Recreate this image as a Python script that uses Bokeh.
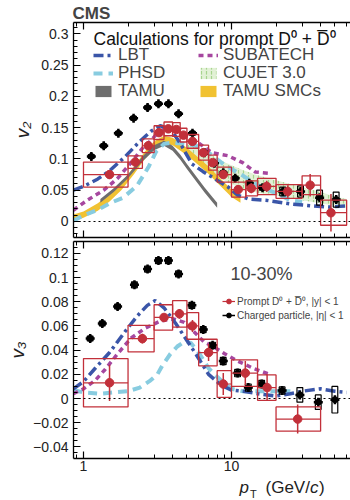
import numpy as np
from bokeh.plotting import figure
from bokeh.layouts import column
from bokeh.models import (Range1d, FixedTicker, LogAxis, CustomJSTickFormatter,
                          CustomLabelingPolicy, Label, Legend, LegendItem, Span, Title)
from bokeh.embed import file_html
from bokeh.resources import INLINE

# ------------------------------------------------------------------ data
# prompt D0 v2
d2_lo = [1, 2, 2.5, 3, 3.5, 4, 4.5, 5, 6, 7, 8, 10, 12.5, 15, 20, 30, 40]
d2_hi = [2, 2.5, 3, 3.5, 4, 4.5, 5, 6, 7, 8, 10, 12.5, 15, 20, 30, 40, 60]
d2_pt = [1.5, 2.24, 2.74, 3.24, 3.74, 4.24, 4.74, 5.45, 6.45, 7.45, 8.8, 11.1, 13.6, 17.3, 24, 34, 47]
d2_v = [0.075, 0.095, 0.121, 0.142, 0.148, 0.147, 0.138, 0.128, 0.110, 0.094, 0.075,
        0.051, 0.053, 0.056, 0.048, 0.058, 0.014]
d2_sys = [0.020, 0.010, 0.011, 0.011, 0.011, 0.011, 0.011, 0.011, 0.012, 0.012, 0.012,
          0.012, 0.012, 0.013, 0.011, 0.015, 0.020]
d2_stat = [0.007, 0.003, 0.003, 0.003, 0.003, 0.003, 0.004, 0.004, 0.005, 0.005, 0.006,
           0.007, 0.008, 0.009, 0.010, 0.018, 0.030]

# charged particle v2
h2_pt = [1.13, 1.37, 1.72, 2.18, 2.71, 3.21, 3.75, 4.39, 5.45, 6.57, 7.67, 8.8, 10.6,
         13.2, 16.2, 22.2, 29.3, 39.4, 51]
h2_v = [0.104, 0.121, 0.141, 0.165, 0.182, 0.188, 0.188, 0.172, 0.141, 0.110, 0.093,
        0.078, 0.069, 0.061, 0.054, 0.048, 0.048, 0.038, 0.035]
h2_sys = [0.003, 0.003, 0.003, 0.003, 0.003, 0.003, 0.003, 0.003, 0.003, 0.003, 0.003,
          0.003, 0.003, 0.004, 0.004, 0.007, 0.009, 0.012, 0.012]

# prompt D0 v3
d3_lo = [1, 2, 3, 4, 5, 6, 8, 10, 15, 20]
d3_hi = [2, 3, 4, 5, 6, 8, 10, 15, 20, 40]
d3_pt = [1.5, 2.5, 3.5, 4.45, 5.45, 7.0, 8.8, 12.4, 17.4, 28]
d3_v = [0.013, 0.0495, 0.067, 0.070, 0.060, 0.038, 0.012, 0.021, 0.009, -0.017]
d3_sys = [0.020, 0.011, 0.0105, 0.011, 0.011, 0.011, 0.011, 0.011, 0.0105, 0.010]
d3_stat = [0.015, 0.004, 0.003, 0.004, 0.005, 0.007, 0.009, 0.010, 0.011, 0.012]

# charged particle v3
h3_pt = [1.11, 1.34, 1.70, 2.21, 2.71, 3.21, 3.75, 4.39, 5.4, 6.45, 7.45, 8.8, 11, 13,
         16, 22, 29, 38.6, 50]
h3_v = [0.0496, 0.062, 0.076, 0.094, 0.107, 0.114, 0.114, 0.103, 0.077, 0.057, 0.044,
        0.031, 0.021, 0.009, 0.012, 0.0066, 0.003, -0.003, -0.001]
h3_sys = [0.002, 0.002, 0.002, 0.0025, 0.0025, 0.0025, 0.0025, 0.0025, 0.0025, 0.0025,
          0.0025, 0.003, 0.003, 0.003, 0.003, 0.003, 0.006, 0.006, 0.011]

# models, v2
lbt2_pt = [0.855, 1.0, 1.25, 1.5, 1.9, 2.4, 2.85, 3.3, 3.9, 4.5, 5.4, 6.4, 8, 9.5, 11,
           13, 17, 25, 35, 45, 60]
lbt2_v = [0.050, 0.056, 0.068, 0.081, 0.103, 0.128, 0.144, 0.153, 0.147, 0.125, 0.092,
          0.080, 0.066, 0.055, 0.042, 0.036, 0.034, 0.028, 0.025, 0.023, 0.025]
sub2_pt = [0.855, 1.06, 1.37, 1.7, 2.08, 2.5, 2.84, 3.21, 3.7, 4.5, 5.7, 7.4, 9.5, 11.9,
           14.5, 18]
sub2_v = [0.018, 0.034, 0.050, 0.069, 0.093, 0.117, 0.129, 0.143, 0.150, 0.145, 0.129,
          0.110, 0.105, 0.094, 0.079, 0.077]
phsd2_pt = [0.855, 1.0, 1.24, 1.5, 1.85, 2.3, 2.75, 3.1, 3.5, 4.0, 5.0, 6.0, 7.0, 9.0,
            12, 15, 20, 25, 30]
phsd2_v = [0.001, 0.010, 0.018, 0.029, 0.038, 0.057, 0.087, 0.112, 0.124, 0.126, 0.124,
           0.120, 0.110, 0.090, 0.073, 0.058, 0.045, 0.034, 0.031]
tamu_pt = [1.3, 1.6, 2.0, 2.5, 3.0, 3.5, 4.0, 4.5, 5.0, 5.7, 6.6, 7.5, 8.0]
tamu_lo = [0.030, 0.047, 0.069, 0.096, 0.114, 0.121, 0.113, 0.099, 0.084, 0.066, 0.046,
           0.030, 0.022]
tamu_hi = [0.036, 0.053, 0.075, 0.104, 0.122, 0.129, 0.121, 0.107, 0.092, 0.074, 0.054,
           0.038, 0.030]
smc_pt = [0.855, 1.0, 1.25, 1.5, 1.8, 2.2, 2.6, 3.0, 3.5, 4.0, 5.0, 6.0, 7.0, 8.0, 9.0,
          10.0, 11.5]
smc_lo = [0.001, 0.006, 0.017, 0.032, 0.050, 0.076, 0.100, 0.116, 0.125, 0.122, 0.106,
          0.090, 0.076, 0.062, 0.050, 0.039, 0.030]
smc_hi = [0.011, 0.016, 0.029, 0.044, 0.062, 0.088, 0.112, 0.128, 0.137, 0.134, 0.118,
          0.102, 0.088, 0.074, 0.062, 0.051, 0.042]
cuj_pt = [5, 6, 7, 8, 10, 12, 15, 20, 25, 30, 40, 50, 60]
cuj_lo = [0.110, 0.098, 0.085, 0.072, 0.060, 0.052, 0.046, 0.042, 0.038, 0.034, 0.029,
          0.025, 0.022]
cuj_hi = [0.125, 0.118, 0.110, 0.100, 0.090, 0.082, 0.074, 0.066, 0.060, 0.055, 0.047,
          0.040, 0.036]

# models, v3
lbt3_pt = [0.855, 1.0, 1.2, 1.5, 1.9, 2.3, 2.7, 3.05, 3.5, 4.2, 5.0, 5.8, 7.0, 8.5, 10,
           12, 15, 20, 25, 30, 40, 50, 60]
lbt3_v = [0.008, 0.014, 0.025, 0.038, 0.055, 0.068, 0.077, 0.081, 0.075, 0.062, 0.048,
          0.036, 0.020, 0.011, 0.007, 0.006, 0.004, 0.002, 0.004, 0.006, 0.008, 0.006,
          0.005]
sub3_pt = [0.855, 1.0, 1.2, 1.4, 1.7, 2.1, 2.6, 3.3, 4.0, 4.8, 5.6, 6.5, 7.5, 9, 11, 14,
           18]
sub3_v = [0.004, 0.008, 0.015, 0.024, 0.037, 0.050, 0.058, 0.064, 0.066, 0.063, 0.055,
          0.047, 0.043, 0.037, 0.031, 0.025, 0.020]
phsd3_pt = [0.855, 1.0, 1.3, 1.6, 2.0, 2.4, 2.84, 3.16, 3.4, 3.87, 4.3, 4.8, 5.3, 6.0,
            7.0, 8.0, 9.0, 10, 12, 15, 20, 25]
phsd3_v = [0.007, 0.005, 0.004, 0.005, 0.006, 0.009, 0.015, 0.020, 0.027, 0.037, 0.043,
           0.047, 0.046, 0.038, 0.025, 0.018, 0.012, 0.008, 0.006, 0.006, 0.006, 0.006]

# axis ticks / labels
x_major = [1, 10]
x_minor = [0.9, 2, 3, 4, 5, 6, 7, 8, 9, 20, 30, 40, 50, 60]
y2_major = [0, 0.05, 0.1, 0.15, 0.2, 0.25, 0.3]
y3_major = [-0.04, -0.02, 0, 0.02, 0.04, 0.06, 0.08, 0.1, 0.12]

# ------------------------------------------------------------------ style
FONT = "Liberation Sans"
RED = "#c2303a"
LBT_C = "#3a55a8"
SUB_C = "#a6479f"
PHSD_C = "#88cce0"
TAMU_C = "#6e6e6e"
SMC_C = "#f1c232"
CUJ_C = "#e2f1d6"
CUJ_H = "#a6d48e"

yfmt = CustomJSTickFormatter(code="""
if (Math.abs(tick) < 1e-9) return '0';
let s = tick.toFixed(2).replace(/0+$/, '').replace(/\\.$/, '');
return s.replace('-', '\\u2212');
""")
xfmt = CustomJSTickFormatter(code="return String(Math.round(tick));")


def style_axis(ax, labels=True, size="14px"):
    ax.major_tick_in = 7
    ax.major_tick_out = 0
    ax.minor_tick_in = 4
    ax.minor_tick_out = 0
    ax.axis_line_color = "black"
    ax.axis_line_width = 1.3
    ax.major_tick_line_width = 1.2
    ax.minor_tick_line_width = 1.0
    ax.major_label_text_font = FONT
    ax.axis_label_standoff = 0
    if labels:
        ax.major_label_text_font_size = size
        ax.major_label_text_color = "#222222"
    else:
        ax.major_label_text_font_size = "0px"
        ax.major_label_standoff = 0
        ax.major_label_policy = CustomLabelingPolicy(code="return []")


def make_fig(height, ymin, ymax, btop, bbot, ymaj, yminor, xlabels):
    p = figure(width=350, height=height, x_axis_type="log",
               x_range=Range1d(0.856, 63.7), y_range=Range1d(ymin, ymax),
               output_backend="svg", toolbar_location=None,
               min_border_left=73, min_border_right=0,
               min_border_top=btop, min_border_bottom=bbot,
               outline_line_color=None, background_fill_color="white")
    p.xgrid.visible = False
    p.ygrid.visible = False
    xb = p.xaxis[0]
    xb.ticker = FixedTicker(ticks=x_major, minor_ticks=x_minor)
    xb.formatter = xfmt
    style_axis(xb, labels=xlabels)
    if xlabels:
        xb.major_label_standoff = 2
    xt = LogAxis(ticker=FixedTicker(ticks=x_major, minor_ticks=x_minor), formatter=xfmt)
    style_axis(xt, labels=False)
    p.add_layout(xt, "above")
    ya = p.yaxis[0]
    ya.ticker = FixedTicker(ticks=ymaj, minor_ticks=yminor)
    ya.formatter = yfmt
    style_axis(ya, labels=True, size="14px")
    ya.major_label_standoff = 5
    p.add_layout(Span(location=0, dimension="width", line_color="black",
                      line_dash="2 3", line_width=1.2))
    return p


def draw_data(p, lo, hi, pt, v, sys, stat, hpt, hv, hsys):
    lo, hi, pt, v, sys, stat = map(np.asarray, (lo, hi, pt, v, sys, stat))
    hpt, hv, hsys = map(np.asarray, (hpt, hv, hsys))
    # charged particles
    p.quad(left=hpt * 0.955, right=hpt * 1.045, bottom=hv - hsys, top=hv + hsys,
           fill_color=None, line_color="black", line_width=1.2)
    hseg = p.segment(x0=hpt * 0.965, x1=hpt * 1.035, y0=hv, y1=hv, line_color="black",
                     line_width=1.5)
    p.scatter(hpt, hv, marker="cross", size=9, line_color="black", line_width=2.5)
    hr = p.scatter(hpt, hv, marker="circle", size=6, color="black")
    # D0
    p.quad(left=lo, right=hi, bottom=v - sys, top=v + sys, fill_color=None,
           line_color=RED, line_width=1.3)
    dseg = p.segment(x0=lo, x1=hi, y0=v, y1=v, line_color=RED, line_width=1.2)
    p.segment(x0=pt, x1=pt, y0=v - stat, y1=v + stat, line_color=RED, line_width=1.5)
    dr = p.scatter(pt, v, marker="circle", size=8.5, color=RED)
    return dr, dseg, hr, hseg


def side_title(text, standoff):
    return Title(text=text, align="center", text_font=FONT, text_font_style="italic",
                 text_font_size="19px", text_color="#222222", standoff=standoff)


# ------------------------------------------------------------------ top panel (v2)
p1 = make_fig(239, -0.0256, 0.318, 22, 2, y2_major,
              [round(-0.02 + 0.01 * i, 3) for i in range(34)], False)
p1.title.text = "CMS"
p1.title.text_font = FONT
p1.title.text_font_size = "17px"
p1.title.text_font_style = "bold"
p1.title.align = "left"
p1.title.offset = -1
p1.title.standoff = 0
p1.add_layout(side_title("v\u2082", 12), "left")

r_cuj = p1.varea(x=cuj_pt, y1=cuj_lo, y2=cuj_hi, fill_color=CUJ_C, hatch_pattern=":",
                 hatch_color=CUJ_H, hatch_scale=5, hatch_weight=1.2)
r_smc = p1.varea(x=smc_pt, y1=smc_lo, y2=smc_hi, fill_color=SMC_C)
r_tamu = p1.varea(x=tamu_pt, y1=tamu_lo, y2=tamu_hi, fill_color=TAMU_C)
r_phsd = p1.line(phsd2_pt, phsd2_v, line_color=PHSD_C, line_width=4, line_dash="9 6")
r_sub = p1.line(sub2_pt, sub2_v, line_color=SUB_C, line_width=3.5, line_dash="5 4")
r_lbt = p1.line(lbt2_pt, lbt2_v, line_color=LBT_C, line_width=3.5, line_dash="10 4 3 4")
draw_data(p1, d2_lo, d2_hi, d2_pt, d2_v, d2_sys, d2_stat, h2_pt, h2_v, h2_sys)

leg_kw = dict(label_text_font=FONT, label_text_font_size="17px", glyph_width=20,
              glyph_height=14, label_standoff=5, spacing=0, padding=0, margin=0,
              border_line_color=None, background_fill_alpha=0, label_height=20)
entries = [("LBT", r_lbt, 20, 55), ("PHSD", r_phsd, 20, 73), ("TAMU", r_tamu, 20, 91),
           ("SUBATECH", r_sub, 125, 55), ("CUJET 3.0", r_cuj, 125, 73),
           ("TAMU SMCs", r_smc, 125, 91)]
for text, rend, lx, cy in entries:
    p1.add_layout(Legend(items=[LegendItem(label=text, renderers=[rend])],
                         location=(lx, 237 - cy - 10), **leg_kw))
p1.add_layout(Label(x=20, y=237 - 38, x_units="screen", y_units="screen",
                    text="Calculations for prompt D\u2070 + D\u0305\u2070",
                    text_font=FONT, text_font_size="17.5px", text_color="#111111",
                    text_baseline="middle", text_align="left"))

# ------------------------------------------------------------------ bottom panel (v3)
p2 = make_fig(237, -0.0496, 0.1298, 2, 18, y3_major,
              [round(-0.05 + 0.005 * i, 4) for i in range(37)], True)
p2.add_layout(side_title("v\u2083", 6), "left")
r_phsd3 = p2.line(phsd3_pt, phsd3_v, line_color=PHSD_C, line_width=4, line_dash="9 6")
r_sub3 = p2.line(sub3_pt, sub3_v, line_color=SUB_C, line_width=3.5, line_dash="5 4")
r_lbt3 = p2.line(lbt3_pt, lbt3_v, line_color=LBT_C, line_width=3.5, line_dash="10 4 3 4")
dr, dseg, hr, hseg = draw_data(p2, d3_lo, d3_hi, d3_pt, d3_v, d3_sys, d3_stat,
                               h3_pt, h3_v, h3_sys)

leg3 = Legend(items=[LegendItem(label="Prompt D\u2070 + D\u0305\u2070, |y| < 1",
                                renderers=[dseg, dr]),
                     LegendItem(label="Charged particle, |\u03b7| < 1",
                                renderers=[hseg, hr])],
              location=(149, 137), label_text_font=FONT, label_text_font_size="10px",
              glyph_width=13, glyph_height=12, label_standoff=2, spacing=1, padding=0,
              margin=0, border_line_color=None, background_fill_alpha=0, label_height=12)
p2.add_layout(leg3)
p2.add_layout(Label(x=157, y=185, x_units="screen", y_units="screen", text="10-30%",
                    text_font=FONT, text_font_size="18px", text_baseline="middle"))

# ------------------------------------------------------------------ x-axis title strip
p3 = figure(width=350, height=24, x_range=Range1d(0, 1), y_range=Range1d(0, 1),
            output_backend="svg", toolbar_location=None, x_axis_location=None,
            y_axis_location=None, min_border=0, outline_line_color=None,
            background_fill_color="white", border_fill_color="white")
p3.grid.visible = False
lab_kw = dict(x_units="screen", y_units="screen", text_font=FONT,
              text_baseline="middle", text_align="left", text_color="#222222")
p3.add_layout(Label(x=166, y=13, text="p", text_font_style="italic",
                    text_font_size="17px", **lab_kw))
p3.add_layout(Label(x=176.5, y=7, text="T", text_font_size="11px", **lab_kw))
p3.add_layout(Label(x=192, y=13, text="(GeV/", text_font_size="17px", **lab_kw))
p3.add_layout(Label(x=236.5, y=13, text="c", text_font_style="italic",
                    text_font_size="17px", **lab_kw))
p3.add_layout(Label(x=245.5, y=13, text=")", text_font_size="17px", **lab_kw))

layout = column(p1, p2, p3, spacing=0)
open("out.html", "w").write(file_html(layout, INLINE))
